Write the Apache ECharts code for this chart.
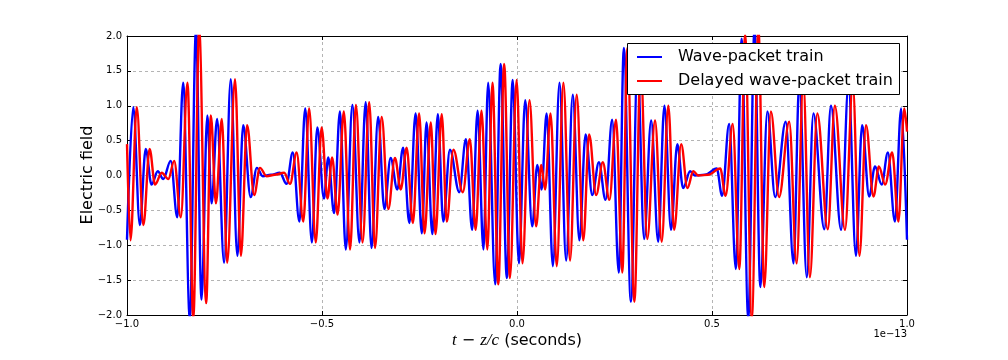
<!DOCTYPE html>
<html>
<head>
<meta charset="utf-8">
<script src="https://cdn.jsdelivr.net/npm/echarts@6/dist/echarts.min.js"></script>
<style>
  html, body { margin: 0; padding: 0; background: #fff; }
  #chart { width: 1008px; height: 360px; }
</style>
</head>
<body>
<div id="chart"></div>
<script>
const blueT = [
  -1.000, -0.984, -0.967, -0.952, -0.937, -0.921, -0.907, -0.888, -0.871, -0.856,
  -0.839, -0.823, -0.809, -0.794, -0.783, -0.769, -0.751, -0.734, -0.717, -0.702,
  -0.683, -0.667, -0.652, -0.631, -0.608, -0.591, -0.575, -0.558, -0.543, -0.526,
  -0.512, -0.495, -0.484, -0.469, -0.454, -0.439, -0.422, -0.404, -0.388, -0.373,
  -0.356, -0.340, -0.324, -0.307, -0.292, -0.276, -0.260, -0.244, -0.232, -0.217,
  -0.203, -0.189, -0.172, -0.148, -0.131, -0.115, -0.101, -0.086, -0.074, -0.056,
  -0.042, -0.026, -0.011, 0.005, 0.021, 0.039, 0.052, 0.063, 0.076, 0.092,
  0.109, 0.126, 0.143, 0.160, 0.176, 0.193, 0.210, 0.227, 0.244, 0.261,
  0.274, 0.292, 0.309, 0.326, 0.344, 0.362, 0.378, 0.395, 0.411, 0.426,
  0.444, 0.456, 0.482, 0.512, 0.526, 0.544, 0.561, 0.576, 0.593, 0.609,
  0.624, 0.642, 0.662, 0.689, 0.709, 0.724, 0.743, 0.760, 0.788, 0.805,
  0.831, 0.850, 0.869, 0.885, 0.903, 0.918, 0.935, 0.951, 0.969, 0.985,
  1.000
]
const blueE = [
  -0.92, 0.98, -0.71, 0.38, -0.13, 0.06, -0.05, 0.21, -0.60, 1.33,
  -2.05, 2.10, -1.78, 0.86, -0.40, 0.81, -1.25, 1.38, -1.15, 0.72,
  -0.31, 0.11, -0.01, 0.01, 0.04, -0.12, 0.33, -0.66, 0.96, -0.96,
  0.69, -0.33, 0.26, -0.54, 0.92, -1.06, 1.01, -0.96, 1.05, -1.04,
  0.84, -0.48, 0.25, -0.20, 0.40, -0.68, 0.89, -0.83, 0.76, -0.84,
  0.88, -0.66, 0.37, -0.24, 0.52, -0.78, 0.93, -1.06, 1.33, -1.56,
  1.60, -1.47, 1.37, -1.26, 1.08, -0.73, 0.15, -0.20, 0.89, -1.30,
  1.33, -1.22, 1.16, -0.93, 0.59, -0.28, 0.19, -0.35, 0.80, -1.39,
  1.83, -1.81, 1.60, -0.91, 0.79, -0.95, 1.00, -0.78, 0.45, -0.18,
  0.06, 0.00, 0.01, 0.10, -0.29, 0.74, -1.34, 1.96, -2.05, 2.10,
  -1.60, 0.92, -0.31, 0.77, -1.26, 1.35, -1.46, 0.89, -0.77, 1.00,
  -0.78, 1.30, -1.15, 0.72, -0.30, 0.13, -0.13, 0.33, -0.66, 0.96,
  -0.92
]
const redT = [
  -1.000, -0.991, -0.975, -0.958, -0.942, -0.928, -0.911, -0.894, -0.879, -0.862,
  -0.845, -0.830, -0.815, -0.797, -0.785, -0.772, -0.757, -0.743, -0.723, -0.708,
  -0.692, -0.674, -0.659, -0.642, -0.621, -0.597, -0.582, -0.565, -0.548, -0.533,
  -0.516, -0.501, -0.486, -0.474, -0.460, -0.444, -0.428, -0.413, -0.396, -0.379,
  -0.364, -0.347, -0.330, -0.313, -0.298, -0.283, -0.267, -0.251, -0.237, -0.221,
  -0.209, -0.193, -0.180, -0.163, -0.139, -0.121, -0.106, -0.091, -0.076, -0.063,
  -0.048, -0.033, -0.018, -0.001, 0.014, 0.032, 0.049, 0.062, 0.072, 0.086,
  0.102, 0.119, 0.136, 0.153, 0.170, 0.185, 0.203, 0.220, 0.237, 0.254,
  0.270, 0.283, 0.301, 0.317, 0.334, 0.354, 0.371, 0.388, 0.403, 0.421,
  0.437, 0.452, 0.465, 0.490, 0.521, 0.535, 0.553, 0.570, 0.585, 0.602,
  0.619, 0.634, 0.651, 0.672, 0.698, 0.717, 0.734, 0.751, 0.770, 0.797,
  0.815, 0.841, 0.861, 0.878, 0.895, 0.914, 0.928, 0.944, 0.962, 0.978,
  0.993, 1.000
]
const redE = [
  0.45, -0.93, 0.98, -0.71, 0.38, -0.13, 0.04, -0.05, 0.21, -0.60,
  1.33, -2.05, 2.10, -1.83, 0.86, -0.40, 0.81, -1.25, 1.38, -1.15,
  0.72, -0.28, 0.11, -0.01, 0.01, 0.04, -0.12, 0.33, -0.66, 0.96,
  -0.96, 0.69, -0.33, 0.26, -0.56, 0.92, -1.06, 1.01, -0.96, 1.05,
  -1.04, 0.84, -0.48, 0.25, -0.20, 0.40, -0.68, 0.89, -0.83, 0.76,
  -0.84, 0.88, -0.66, 0.37, -0.24, 0.52, -0.78, 0.93, -1.06, 1.33,
  -1.56, 1.60, -1.47, 1.37, -1.26, 1.08, -0.73, 0.15, -0.20, 0.89,
  -1.30, 1.33, -1.22, 1.16, -0.93, 0.59, -0.28, 0.19, -0.35, 0.80,
  -1.39, 1.83, -1.81, 1.60, -0.91, 0.79, -0.95, 1.00, -0.78, 0.45,
  -0.18, 0.06, 0.00, 0.01, 0.10, -0.29, 0.74, -1.34, 2.02, -2.05,
  2.10, -1.60, 0.92, -0.31, 0.77, -1.26, 1.35, -1.46, 0.89, -0.77,
  1.00, -0.78, 1.30, -1.15, 0.72, -0.30, 0.13, -0.13, 0.33, -0.66,
  0.96, 0.63
]
const seriesNames = ['Wave-packet train', 'Delayed wave-packet train']
const seriesColors = ['#0000ff', '#ff0000']
const xRange = [-1, 1, 0.5]
const yRange = [-2, 2, 0.5]

const FONT = '"DejaVu Sans", sans-serif'
const minus = (v) => v.toFixed(1).replace('-', '\u2212')
const zip = (t, e) => t.map((x, i) => [x, e[i]])

const chart = echarts.init(document.getElementById('chart'), null, { renderer: 'canvas' })

const frameAxis = {
  axisLine: { show: true, onZero: false, lineStyle: { color: '#000', width: 1 } },
  axisTick: { show: true, inside: true, length: 4, lineStyle: { color: '#000' } },
}
const gridLine = { show: true, lineStyle: { color: '#b4b4b4', type: [3, 3], width: 1 } }

chart.setOption({
  animation: false,
  grid: { left: 127, right: 101, top: 36, bottom: 45, show: false },
  xAxis: [{
    type: 'value', min: xRange[0], max: xRange[1], interval: xRange[2],
    ...frameAxis,
    axisLabel: { color: '#000', fontSize: 10, fontFamily: FONT, margin: 4, formatter: minus },
    splitLine: gridLine,
  }, {
    type: 'value', position: 'top', min: xRange[0], max: xRange[1], interval: xRange[2],
    ...frameAxis,
    axisLabel: { show: false },
    splitLine: { show: false },
  }],
  yAxis: [{
    type: 'value', min: yRange[0], max: yRange[1], interval: yRange[2],
    ...frameAxis,
    axisLabel: { color: '#000', fontSize: 10, fontFamily: FONT, margin: 5, formatter: minus },
    splitLine: gridLine,
  }, {
    type: 'value', position: 'right', min: yRange[0], max: yRange[1], interval: yRange[2],
    ...frameAxis,
    axisLabel: { show: false },
    splitLine: { show: false },
  }],
  legend: {
    orient: 'vertical',
    left: 637, top: 47,
    padding: 0,
    itemGap: 4,
    itemWidth: 25,
    itemHeight: 2,
    icon: 'rect',
    z: 20,
    selectedMode: false,
    textStyle: { fontSize: 16, fontFamily: FONT, color: '#000', lineHeight: 20, padding: [0, 0, 0, 11] },
    data: seriesNames,
  },
  graphic: [
    {
      type: 'rect', z: 15,
      shape: { x: 627.5, y: 43.5, width: 272, height: 51 },
      style: { fill: '#fff', stroke: '#000', lineWidth: 1 },
    },
    {
      type: 'text', x: 88, y: 175, rotation: Math.PI / 2,
      style: { text: 'Electric field', font: '16px ' + FONT, fill: '#000', align: 'center', verticalAlign: 'middle' },
    },
    {
      type: 'text', x: 517, y: 341,
      style: {
        text: '{m|t} \u2212 {m|z/c} (seconds)',
        font: '16px ' + FONT, fill: '#000', align: 'center', verticalAlign: 'middle',
        rich: { m: { fontFamily: '"Liberation Serif", serif', fontStyle: 'italic', fontSize: 17 } },
      },
    },
    {
      type: 'text', x: 907, y: 334,
      style: { text: '1e\u221213', font: '10px ' + FONT, fill: '#000', align: 'right', verticalAlign: 'middle' },
    },
  ],
  series: [0, 1].map((i) => ({
    name: seriesNames[i],
    type: 'line',
    xAxisIndex: 0,
    yAxisIndex: 0,
    data: zip(i === 0 ? blueT : redT, i === 0 ? blueE : redE),
    showSymbol: false,
    smooth: 0.36,
    smoothMonotone: 'x',
    clip: true,
    silent: true,
    color: seriesColors[i],
    lineStyle: { color: seriesColors[i], width: 2.4 },
  })),
})
</script>
</body>
</html>
